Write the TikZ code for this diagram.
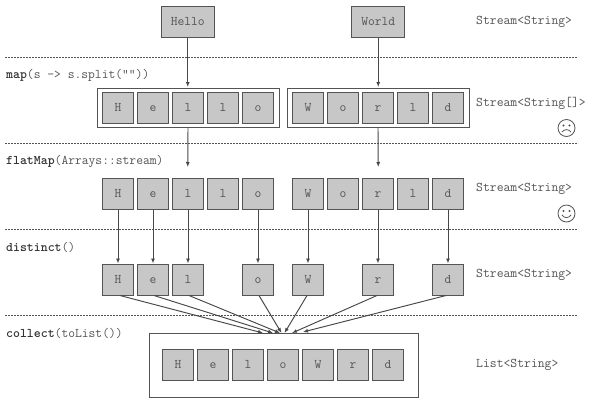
\documentclass[tikz,border=0pt]{standalone}
\usetikzlibrary{arrows.meta}
\definecolor{boxfill}{gray}{0.78}
\definecolor{ink}{gray}{0.33}
\definecolor{txt}{gray}{0.33}
\tikzset{
  x=1pt,y=-1pt,
  cell/.style={draw=ink,fill=boxfill,line width=1pt,minimum width=31.5pt,minimum height=31pt,inner sep=0pt,text height=7.5pt,text depth=0pt,font=\fontsize{13.2}{15}\ttfamily,text=txt},
  word/.style={cell,minimum width=53pt},
  outer/.style={draw=ink,line width=1pt,fill=white,inner sep=0pt},
  sep/.style={draw=ink,line width=0.7pt,dash pattern=on 2pt off 1pt},
  flow/.style={draw=ink!85!black,line width=0.95pt,-{Latex[length=5pt,width=4pt]}},
  typelabel/.style={anchor=west,inner sep=0pt,font=\fontsize{13.3}{15}\ttfamily,text=txt},
  oplabel/.style={anchor=west,inner sep=0pt,font=\fontsize{13.2}{15}\ttfamily,text=txt},
  face/.style={draw=ink,line width=0.8pt,fill=white},
}
\newcommand{\opname}[1]{\textcolor{black!80}{\textbf{#1}}}
\begin{document}
\begin{tikzpicture}
\useasboundingbox (0,0) rectangle (600,400);
\fill[white] (0,0) rectangle (600,400);
% separators
\foreach \n/\y in {a/57.5,b/143.5,c/229,d/315}{
  \coordinate (s\n l) at (5,\y); \coordinate (s\n r) at (578,\y);
  \draw[sep] (s\n l) -- (s\n r);
}
% outer frames
\node[outer,minimum width=182pt,minimum height=39.5pt] (framehello) at (188,107.75) {};
\node[outer,minimum width=182pt,minimum height=39.5pt] (frameworld) at (378,107.75) {};
\node[outer,minimum width=269pt,minimum height=63.5pt] (framelist) at (283.5,365.25) {};
% row 0
\node[word] (hello) at (187.75,21.5) {Hello};
\node[word] (world) at (378.25,21.5) {World};
% rows 1 and 2
\foreach \n/\t/\x in {a/H/118,b/e/153,c/l/188,d/l/223,e/o/258,f/W/308,g/o/343,h/r/378,i/l/413,j/d/448}{
  \node[cell] (m\n) at (\x,108) {\t};
  \node[cell] (f\n) at (\x,193.5) {\t};
}
% row 3
\foreach \n/\t/\x in {a/H/118,b/e/153,c/l/188,e/o/258,f/W/308,h/r/378,j/d/448}{
  \node[cell] (d\n) at (\x,279.5) {\t};
}
% row 4
\foreach \n/\t/\x in {a/H/178,b/e/213,c/l/248,e/o/283,f/W/318,h/r/353,j/d/388}{
  \node[cell] (c\n) at (\x,365) {\t};
}
% connectors
\coordinate (t1) at (187.75,87); \coordinate (t2) at (378.25,87);
\coordinate (t3) at (187.75,167); \coordinate (t4) at (378.25,167);
\draw[flow] (hello.south) -- (t1);
\draw[flow] (world.south) -- (t2);
\draw[flow] (framehello.south) -- (t3);
\draw[flow] (frameworld.south) -- (t4);
\foreach \n in {a,b,c,e,f,h,j}{ \draw[flow] (f\n.south) -- (d\n.north); }
\coordinate (pa) at (263,333); \coordinate (pb) at (273,333); \coordinate (pc) at (280,333);
\coordinate (pe) at (281.5,333); \coordinate (pf) at (284.5,333); \coordinate (ph) at (292,333); \coordinate (pj) at (303,332);
\foreach \n/\dx in {a/2,b/1,c/1,e/1,f/-1,h/-1,j/-2}{
  \draw[flow] ([xshift=\dx pt]d\n.south) -- (p\n);
}
% labels
\node[oplabel] (l0) at (6,75.5) {\opname{map}(s -> s.split(""))};
\node[oplabel] (l1) at (6,161.5) {\opname{flatMap}(Arrays::stream)};
\node[oplabel] (l2) at (6,247) {\opname{distinct}()};
\node[oplabel] (l3) at (6,333) {\opname{collect}(toList())};
\node[typelabel] (t0) at (476,22.2) {Stream<String>};
\node[typelabel] (tm) at (476,103.2) {Stream<String[]>};
\node[typelabel] (tf) at (476,189.2) {Stream<String>};
\node[typelabel] (td) at (476,275.2) {Stream<String>};
\node[typelabel] (tc) at (476,365.2) {List<String>};
% sad face
\begin{scope}[shift={(566.5,128)}]
  \draw[face] (0,0) circle[radius=8.5];
  \fill[ink] (-3,-2.5) circle[radius=1.1] (3,-2.5) circle[radius=1.1];
  \draw[ink,line width=0.8pt] (-4.5,4) .. controls (-2,0.8) and (2,0.8) .. (4.5,4);
\end{scope}
% happy face
\begin{scope}[shift={(566.5,213.5)}]
  \draw[face] (0,0) circle[radius=8.5];
  \fill[ink] (-3,-2.5) circle[radius=1.1] (3,-2.5) circle[radius=1.1];
  \draw[ink,line width=0.8pt] (-4.5,1.5) .. controls (-2,5) and (2,5) .. (4.5,1.5);
\end{scope}
\end{tikzpicture}
\end{document}
